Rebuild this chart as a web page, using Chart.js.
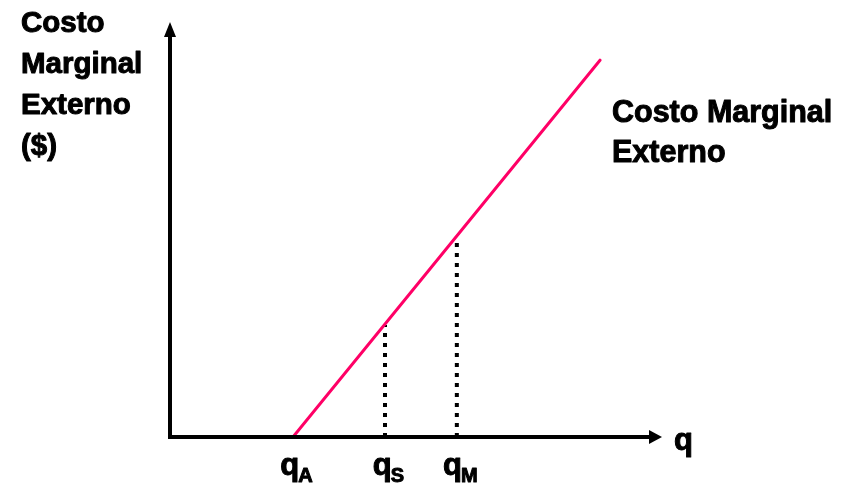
<!DOCTYPE html>
<html>
<head>
<meta charset="utf-8">
<script src="https://cdn.jsdelivr.net/npm/chart.js@4"></script>
<style>
  html, body { margin: 0; padding: 0; background: #fff; }
  #wrap { width: 846px; height: 484px; }
</style>
</head>
<body>
<div id="wrap"><canvas id="chart"></canvas></div>
<script>
// cost line (external marginal cost)
const lineX = [2.5, 8.74];
const lineY = [0, 9.08];

// marked quantities and the cost at each
const qSubs = ['A', 'S', 'M'];
const qValues = [2.5, 4.37, 5.83];
const qCosts = [0, 2.70, 4.82];

const yTitle = ['Costo', 'Marginal', 'Externo', '($)'];
const lineTitle = ['Costo Marginal', 'Externo'];
const xTitle = 'q';

const FONT = '"Liberation Sans", Arial, sans-serif';

const datasets = [{
  data: lineX.map((x, i) => ({ x: x, y: lineY[i] })),
  borderColor: '#ff0066',
  borderWidth: 3,
  pointRadius: 0,
  borderCapStyle: 'round'
}];

// dotted drop lines (qA sits on the axis, no drop line)
qValues.forEach((q, i) => {
  if (qCosts[i] <= 0) return;
  datasets.push({
    data: [{ x: q, y: 0 }, { x: q, y: qCosts[i] }],
    borderColor: '#000',
    borderWidth: 4,
    borderDash: [4, 6],
    borderCapStyle: 'butt',
    pointRadius: 0
  });
});

// heavy text: fill plus a thin stroke
function boldText(ctx, t, x, y) {
  ctx.fillText(t, x, y);
  ctx.strokeText(t, x, y);
}

const axesPlugin = {
  id: 'axesAndText',
  afterDatasetsDraw(chart) {
    const ctx = chart.ctx;
    const xs = chart.scales.x;
    const ys = chart.scales.y;
    const x0 = xs.getPixelForValue(0);
    const y0 = ys.getPixelForValue(0);
    const xEnd = xs.right;
    const yTop = ys.top;

    ctx.save();
    ctx.strokeStyle = '#000';
    ctx.fillStyle = '#000';
    ctx.lineWidth = 4;

    // y axis
    ctx.beginPath();
    ctx.moveTo(x0, y0 + 2);
    ctx.lineTo(x0, yTop + 12);
    ctx.stroke();
    ctx.beginPath();
    ctx.moveTo(x0, yTop);
    ctx.lineTo(x0 - 6, yTop + 15);
    ctx.lineTo(x0 + 6, yTop + 15);
    ctx.closePath();
    ctx.fill();

    // x axis
    ctx.beginPath();
    ctx.moveTo(x0 - 2, y0);
    ctx.lineTo(xEnd - 10, y0);
    ctx.stroke();
    ctx.beginPath();
    ctx.moveTo(xEnd, y0);
    ctx.lineTo(xEnd - 13, y0 - 7);
    ctx.lineTo(xEnd - 13, y0 + 7);
    ctx.closePath();
    ctx.fill();

    ctx.textBaseline = 'alphabetic';
    ctx.textAlign = 'left';
    ctx.lineWidth = 1;
    ctx.lineJoin = 'round';

    // y title
    ctx.font = 'bold 29.5px ' + FONT;
    yTitle.forEach((t, i) => boldText(ctx, t, 21, 32 + i * 41));

    // line label
    ctx.font = 'bold 30.5px ' + FONT;
    lineTitle.forEach((t, i) => boldText(ctx, t, 612, 122 + i * 40));

    // x title
    ctx.font = 'bold 31px ' + FONT;
    boldText(ctx, xTitle, xEnd + 12, 450);

    // q labels with subscripts
    qValues.forEach((q, i) => {
      const px = xs.getPixelForValue(q);
      ctx.font = 'bold 31px ' + FONT;
      const wq = ctx.measureText('q').width;
      ctx.font = 'bold 20px ' + FONT;
      const ws = ctx.measureText(qSubs[i]).width;
      const left = px + 4 - (wq + ws) / 2;
      ctx.font = 'bold 31px ' + FONT;
      boldText(ctx, 'q', left, 475);
      ctx.font = 'bold 20px ' + FONT;
      boldText(ctx, qSubs[i], left + wq - 1, 482);
    });

    ctx.restore();
  }
};

new Chart(document.getElementById('chart'), {
  type: 'line',
  data: { datasets: datasets },
  options: {
    responsive: true,
    maintainAspectRatio: false,
    animation: false,
    layout: { padding: { left: 170, right: 184, top: 22, bottom: 47 } },
    scales: {
      x: { type: 'linear', min: 0, max: 10, display: false },
      y: { type: 'linear', min: 0, max: 10, display: false }
    },
    plugins: {
      legend: { display: false },
      tooltip: { enabled: false }
    }
  },
  plugins: [axesPlugin]
});
</script>
</body>
</html>
